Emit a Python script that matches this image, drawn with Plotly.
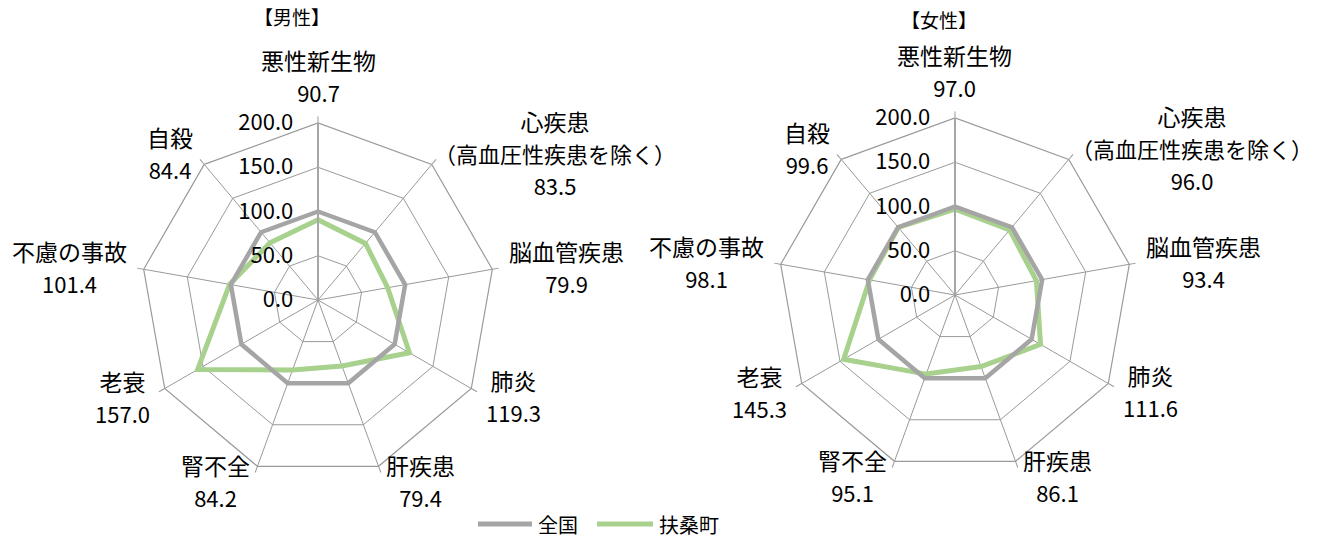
import math
import plotly.graph_objects as go

# ---------------- data ----------------
categories = ["悪性新生物", "心疾患", "脳血管疾患", "肺炎", "肝疾患",
              "腎不全", "老衰", "不慮の事故", "自殺"]
category_labels = ["悪性新生物", "心疾患<br>（高血圧性疾患を除く）", "脳血管疾患", "肺炎",
                   "肝疾患", "腎不全", "老衰", "不慮の事故", "自殺"]
series_names = ["全国", "扶桑町"]
panel_titles = ["【男性】", "【女性】"]

male_national = [100.0, 100.0, 100.0, 100.0, 100.0, 100.0, 100.0, 100.0, 100.0]
male_fuso = [90.7, 83.5, 79.9, 119.3, 79.4, 84.2, 157.0, 101.4, 84.4]
female_national = [100.0, 100.0, 100.0, 100.0, 100.0, 100.0, 100.0, 100.0, 100.0]
female_fuso = [97.0, 96.0, 93.4, 111.6, 86.1, 95.1, 145.3, 98.1, 99.6]

radial_ticks = [0, 50, 100, 150, 200]

# ---------------- style ----------------
W, H = 1321, 539
FONT = "Noto Sans CJK JP, Noto Sans, sans-serif"
GRAY = "#A5A5A5"
GREEN = "#A9D18E"
GRID = "#9A9A9A"

# polar geometry in pixels (center x, center y, radius)
panels = [
    dict(name="polar", cx=318, cy=300, r=177, fuso=male_fuso, nat=male_national,
         title=panel_titles[0], tx=292, ty=17),
    dict(name="polar2", cx=955, cy=295, r=177, fuso=female_fuso, nat=female_national,
         title=panel_titles[1], tx=939, ty=20),
]

fig = go.Figure()
annotations = []
layout_polars = {}

for p in panels:
    sub = p["name"]
    theta = categories + categories[:1]
    fig.add_trace(go.Scatterpolar(
        r=p["fuso"] + p["fuso"][:1], theta=theta, mode="lines",
        name=series_names[1], line=dict(color=GREEN, width=5),
        subplot=sub, showlegend=False))
    fig.add_trace(go.Scatterpolar(
        r=p["nat"] + p["nat"][:1], theta=theta, mode="lines",
        name=series_names[0], line=dict(color=GRAY, width=4.5),
        subplot=sub, showlegend=False))

    cx, cy, r = p["cx"], p["cy"], p["r"]
    layout_polars[sub] = dict(
        domain=dict(x=[(cx - r) / W, (cx + r) / W],
                    y=[1 - (cy + r) / H, 1 - (cy - r) / H]),
        bgcolor="rgba(0,0,0,0)",
        gridshape="linear",
        angularaxis=dict(type="category", categoryarray=categories,
                         rotation=90, direction="clockwise",
                         showticklabels=False, ticks="outside", ticklen=6,
                         tickcolor=GRID, tickwidth=1.2,
                         gridcolor=GRID, gridwidth=1.2,
                         showline=True, linecolor=GRID, linewidth=1.2),
        radialaxis=dict(range=[0, 200], tickvals=radial_ticks, tickformat=".1f",
                        angle=90, side="counterclockwise", tickangle=90,
                        showline=True, linecolor="#A6A6A6", linewidth=2,
                        gridcolor=GRID, gridwidth=1.2,
                        ticks="outside", ticklen=16, tickcolor="rgba(0,0,0,0)",
                        tickfont=dict(family=FONT, size=22, color="black")),
    )

    # category labels with values
    n = len(categories)
    for i, (lab, v) in enumerate(zip(category_labels, p["fuso"])):
        ang = 2 * math.pi * i / n
        s, c = math.sin(ang), math.cos(ang)
        vx = cx + r * s
        vy = cy - r * c
        d = 15
        ax_px = vx + d * s
        ay_px = vy - d * c
        if abs(s) < 0.01:
            xa, ya = "center", "bottom"
            ay_px += 2
        else:
            xa = "left" if s > 0 else "right"
            ya = "middle"
        lines = lab.split("<br>")
        parts = []
        xshift = 0
        for t in lines:
            if t.startswith("（"):
                # full-width bracket carries blank space on its outer side
                parts.append(f"<span style='font-size:22px'>{t}</span>")
                xshift = -9
            else:
                parts.append(f"<span style='font-size:23px'>{t}</span>")
        txt = "<br>".join(parts) + f"<br><span style='font-size:22px'>{v:.1f}</span>"
        annotations.append(dict(
            x=ax_px / W, y=1 - ay_px / H, xref="paper", yref="paper",
            text=txt, showarrow=False, align="center",
            xanchor=xa, yanchor=ya, xshift=xshift,
            font=dict(family=FONT, size=24.5, color="black")))

    annotations.append(dict(
        x=p["tx"] / W, y=1 - p["ty"] / H, xref="paper", yref="paper",
        text=p["title"], showarrow=False, xanchor="center", yanchor="middle",
        font=dict(family=FONT, size=19, color="black")))

# manual legend (longer line symbols like the original)
legend_items = [(series_names[0], GRAY, 478, 532), (series_names[1], GREEN, 597, 653)]
shapes = []
ly = 1 - 524 / H
for name, col, x0, x1 in legend_items:
    shapes.append(dict(type="line", xref="paper", yref="paper",
                       x0=x0 / W, x1=x1 / W, y0=ly, y1=ly,
                       line=dict(color=col, width=5)))
    annotations.append(dict(x=(x1 + 4) / W, y=ly, xref="paper", yref="paper",
                            text=name, showarrow=False, xanchor="left", yanchor="middle",
                            font=dict(family=FONT, size=20, color="black")))

fig.update_layout(
    width=W, height=H,
    margin=dict(l=0, r=0, t=0, b=0),
    paper_bgcolor="white", plot_bgcolor="white",
    font=dict(family=FONT, color="black"),
    showlegend=False,
    annotations=annotations, shapes=shapes,
    **layout_polars,
)

fig.write_html("out.html",
               config={"displayModeBar": False},
               post_script="document.body.style.margin='0px';"
                           "document.body.style.overflow='hidden';")
